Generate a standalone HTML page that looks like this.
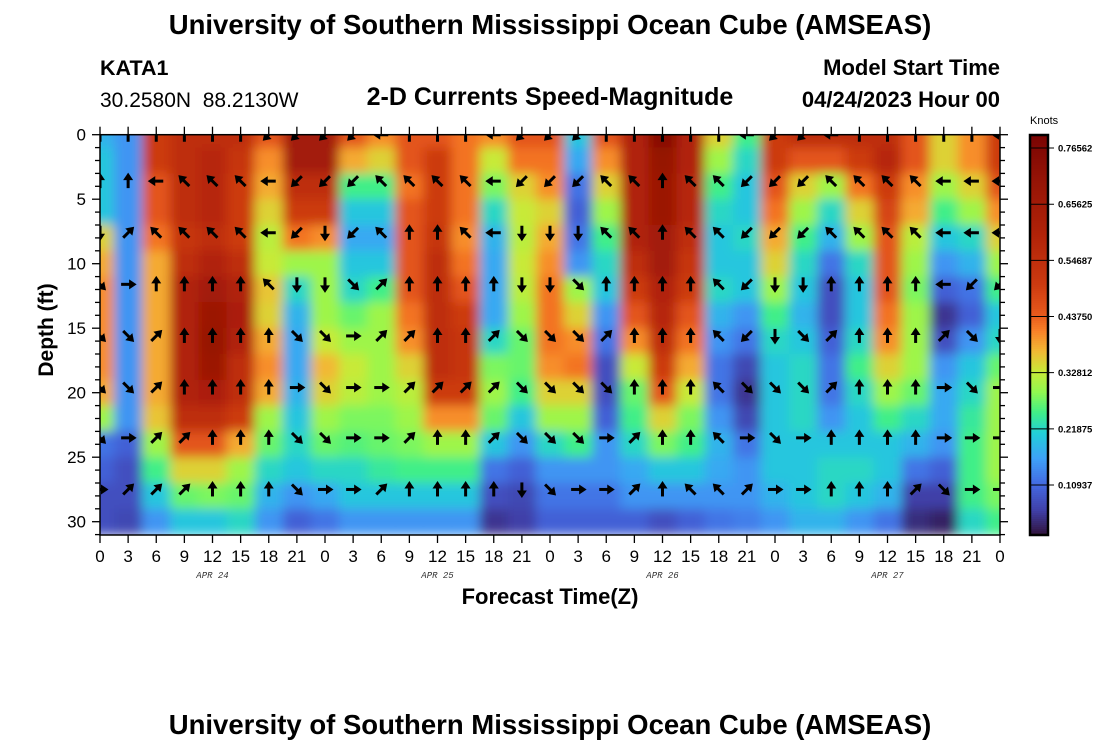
<!DOCTYPE html>
<html><head><meta charset="utf-8">
<style>
body{margin:0;background:#fff;width:1100px;height:750px;overflow:hidden;font-family:"Liberation Sans",Arial,sans-serif}
svg{display:block}
</style></head>
<body>
<svg id="chart" width="1100" height="750" viewBox="0 0 1100 750" xmlns="http://www.w3.org/2000/svg">
<defs>
<clipPath id="plotclip"><rect x="100" y="134.7" width="900" height="400.3"/></clipPath>
<filter id="smooth" filterUnits="userSpaceOnUse" x="60" y="100" width="980" height="480">
<feGaussianBlur stdDeviation="5.5" edgeMode="duplicate"/>
</filter>
</defs>
<text x="550" y="34" text-anchor="middle" font-size="27.5" font-weight="bold">University of Southern Mississippi Ocean Cube (AMSEAS)</text>
<text x="100" y="75" font-size="21.5" font-weight="bold">KATA1</text>
<text x="100" y="107" font-size="21" xml:space="preserve">30.2580N  88.2130W</text>
<text x="550" y="105" text-anchor="middle" font-size="25" font-weight="bold">2-D Currents Speed-Magnitude</text>
<text x="1000" y="75" text-anchor="end" font-size="22" font-weight="bold">Model Start Time</text>
<text x="1000" y="107" text-anchor="end" font-size="22" font-weight="bold">04/24/2023 Hour 00</text>
<g id="plot" clip-path="url(#plotclip)">
<g id="heat" filter="url(#smooth)"></g>
<g id="arrows"></g>
</g>
<rect x="100" y="134.7" width="900" height="400.3" fill="none" stroke="#000" stroke-width="1.5"/>
<g id="axes"></g>
<text transform="translate(53,330) rotate(-90)" text-anchor="middle" font-size="21" font-weight="bold">Depth (ft)</text>
<text x="550" y="604" text-anchor="middle" font-size="22" font-weight="bold">Forecast Time(Z)</text>
<text x="1030" y="124" font-size="11">Knots</text>
<g id="cbar"></g>
<text x="550" y="734" text-anchor="middle" font-size="27.5" font-weight="bold">University of Southern Mississippi Ocean Cube (AMSEAS)</text>
</svg>
<script>
const hours = [0,3,6,9,12,15,18,21,24,27,30,33,36,39,42,45,48,51,54,57,60,63,66,69,72,75,78,81,84,87,90,93,96];
const depths = [0,2,4,6,8,10,12,14,16,18,20,22,24,26,28,30];
// speed (knots) per hour column, values listed by depth
const speed = [
[0.18,0.2,0.2,0.2,0.35,0.38,0.4,0.4,0.4,0.4,0.38,0.3,0.12,0.1,0.08,0.08],
[0.15,0.15,0.15,0.15,0.15,0.15,0.15,0.15,0.15,0.15,0.15,0.15,0.1,0.08,0.08,0.07],
[0.5,0.5,0.45,0.45,0.42,0.38,0.38,0.38,0.38,0.38,0.38,0.36,0.3,0.25,0.2,0.15],
[0.55,0.55,0.55,0.55,0.52,0.55,0.6,0.6,0.6,0.6,0.6,0.55,0.45,0.35,0.27,0.2],
[0.55,0.58,0.58,0.58,0.55,0.6,0.65,0.68,0.7,0.68,0.62,0.55,0.45,0.35,0.28,0.2],
[0.55,0.52,0.5,0.5,0.5,0.55,0.6,0.62,0.6,0.55,0.55,0.5,0.38,0.3,0.27,0.22],
[0.45,0.4,0.38,0.35,0.32,0.33,0.36,0.35,0.38,0.4,0.38,0.3,0.27,0.22,0.18,0.15],
[0.65,0.65,0.55,0.5,0.42,0.3,0.22,0.18,0.17,0.17,0.18,0.2,0.22,0.2,0.15,0.1],
[0.65,0.65,0.55,0.5,0.4,0.3,0.3,0.3,0.33,0.37,0.35,0.3,0.27,0.22,0.17,0.12],
[0.45,0.38,0.25,0.2,0.17,0.2,0.22,0.27,0.3,0.33,0.32,0.28,0.26,0.22,0.2,0.15],
[0.4,0.35,0.25,0.2,0.17,0.2,0.25,0.3,0.3,0.3,0.3,0.28,0.27,0.24,0.2,0.15],
[0.45,0.45,0.42,0.45,0.45,0.45,0.45,0.42,0.4,0.35,0.32,0.3,0.28,0.25,0.2,0.15],
[0.45,0.5,0.5,0.5,0.52,0.55,0.55,0.55,0.55,0.55,0.5,0.4,0.3,0.25,0.2,0.15],
[0.42,0.42,0.42,0.42,0.4,0.42,0.45,0.5,0.52,0.52,0.5,0.4,0.3,0.25,0.2,0.15],
[0.4,0.33,0.28,0.22,0.18,0.17,0.17,0.17,0.22,0.28,0.3,0.27,0.2,0.12,0.08,0.05],
[0.45,0.42,0.35,0.33,0.32,0.33,0.32,0.3,0.27,0.27,0.25,0.2,0.15,0.1,0.07,0.06],
[0.45,0.42,0.4,0.35,0.38,0.4,0.42,0.42,0.42,0.4,0.35,0.3,0.22,0.15,0.12,0.1],
[0.2,0.17,0.12,0.1,0.12,0.15,0.3,0.35,0.4,0.42,0.35,0.3,0.25,0.15,0.12,0.1],
[0.45,0.4,0.35,0.3,0.25,0.22,0.2,0.15,0.12,0.08,0.08,0.1,0.15,0.15,0.12,0.1],
[0.6,0.6,0.6,0.6,0.6,0.55,0.5,0.45,0.4,0.33,0.27,0.25,0.22,0.17,0.15,0.1],
[0.75,0.7,0.68,0.68,0.65,0.65,0.6,0.58,0.55,0.5,0.45,0.35,0.28,0.2,0.15,0.08],
[0.6,0.6,0.58,0.58,0.55,0.52,0.5,0.45,0.42,0.38,0.33,0.28,0.25,0.2,0.15,0.1],
[0.35,0.3,0.25,0.22,0.2,0.2,0.22,0.18,0.15,0.12,0.12,0.15,0.18,0.17,0.15,0.12],
[0.25,0.22,0.2,0.2,0.22,0.2,0.2,0.15,0.12,0.07,0.05,0.07,0.12,0.15,0.15,0.13],
[0.5,0.5,0.45,0.42,0.38,0.35,0.3,0.25,0.22,0.2,0.2,0.2,0.2,0.2,0.18,0.15],
[0.55,0.45,0.35,0.3,0.25,0.22,0.2,0.18,0.2,0.22,0.22,0.22,0.2,0.2,0.2,0.18],
[0.55,0.45,0.3,0.22,0.18,0.12,0.08,0.08,0.1,0.12,0.12,0.15,0.2,0.22,0.22,0.18],
[0.55,0.5,0.42,0.35,0.3,0.22,0.2,0.2,0.22,0.25,0.22,0.2,0.2,0.22,0.2,0.15],
[0.55,0.58,0.5,0.48,0.45,0.45,0.45,0.42,0.4,0.35,0.3,0.25,0.2,0.2,0.18,0.12],
[0.45,0.45,0.4,0.38,0.32,0.3,0.28,0.3,0.3,0.3,0.27,0.22,0.18,0.12,0.06,0.04],
[0.35,0.35,0.3,0.25,0.2,0.15,0.1,0.05,0.08,0.15,0.17,0.17,0.15,0.1,0.06,0.03],
[0.4,0.4,0.35,0.3,0.22,0.18,0.12,0.1,0.15,0.2,0.22,0.24,0.25,0.25,0.25,0.22],
[0.5,0.5,0.45,0.4,0.35,0.3,0.25,0.2,0.22,0.27,0.3,0.3,0.3,0.3,0.28,0.25]
];
const arrowDepths = [0,3.6,7.6,11.6,15.6,19.6,23.5,27.5];
// arrow directions per arrow row, one per hour column
const dirRows = [
"u u u u u u dl dl dl dl l u u u l dl dl dl u u u u u l dl dl l u u u u u l",
"u u l ul ul ul l dl dl dl ul ul ul ul l dl dl dl ul ul u ul ul dl dl dl ul ul ul ul l l l",
"d ur ul ul ul ul l dl d dl ul u u ul l d d d ul ul u ul ul dl dl dl ul ul ul ul l l l",
"dr r u u u u ul d d dr ur u u u u d d dr u u u u ul dl d d u u u u l dl dl",
"dr dr ur u u u u dr dr r ur ur u u ur dr dr dr ur u u u ul dl d dr ur u u u ur dr d",
"dr dr ur u u u u r dr r r ur ur ur ur dr dr dr dr u u u ul dr dr dr ur u u u r dr r",
"dr r ur ur u u u dr dr r r ur u u ur dr dr dr r ur u u ul r dr r u u u u r r r",
"r ur ur ur u u u dr r r ur u u u u d dr r r ur u ul ul ur r r u u u ur dr r r"
];
const cbTicks = [0.109375,0.21875,0.328125,0.4375,0.546875,0.65625,0.765625];
const cbLabels = ["0.10937","0.21875","0.32812","0.43750","0.54687","0.65625","0.76562"];
const yTicks = [0,5,10,15,20,25,30];
const xDayLabels = ["APR 24","APR 25","APR 26","APR 27"];

const NS="http://www.w3.org/2000/svg";
const X0=100,X1=1000,Y0=134.7,PXFT=12.9,HMAX=96,VMIN=0.012,VMAX=0.791,CBY0=135,CBY1=535;
const xs=h=>X0+(h/HMAX)*(X1-X0);
const ys=d=>Y0+d*PXFT;
const cbs=v=>CBY1-(v-VMIN)/(VMAX-VMIN)*(CBY1-CBY0);
const stops=[[0.012,[48,18,59]],[0.06,[64,64,168]],[0.109,[68,104,224]],[0.16,[62,160,248]],[0.21,[34,207,216]],[0.25,[64,239,136]],[0.29,[144,248,80]],[0.33,[200,234,56]],[0.37,[242,184,52]],[0.41,[248,128,40]],[0.44,[232,90,28]],[0.5,[204,58,16]],[0.6,[176,34,8]],[0.7,[150,20,6]],[0.791,[122,4,3]]];
function color(v){
  if(v<=stops[0][0])return `rgb(${stops[0][1]})`;
  for(let i=1;i<stops.length;i++){
    if(v<=stops[i][0]){const a=stops[i-1],b=stops[i];const t=(v-a[0])/(b[0]-a[0]);
      const c=a[1].map((q,k)=>Math.round(q+(b[1][k]-q)*t));return `rgb(${c})`;}
  }
  return `rgb(${stops[stops.length-1][1]})`;
}
function mk(tag,attrs,parent){const e=document.createElementNS(NS,tag);for(const k in attrs)e.setAttribute(k,attrs[k]);parent.appendChild(e);return e;}

const heat=document.getElementById('heat');
const dh=3,dd=2;
hours.forEach((h,i)=>{
  depths.forEach((d,j)=>{
    const r=mk('rect',{x:xs(h-dh/2),y:ys(d-dd/2),width:xs(dh)-X0+0.6,height:dd*PXFT+0.6,fill:color(speed[i][j])},heat);
    
    
  });
});

const ang={u:-90,d:90,l:180,r:0,ul:-135,ur:-45,dl:135,dr:45};
const arrows=document.getElementById('arrows');
dirRows.forEach((row,ri)=>{
  row.trim().split(/\s+/).forEach((dname,ci)=>{
    const cx=xs(hours[ci]),cy=ys(arrowDepths[ri]);
    const g=mk('g',{transform:`translate(${cx},${cy}) rotate(${ang[dname]})`},arrows);
    
    
    mk('line',{x1:-7,y1:0,x2:3,y2:0,stroke:'#000','stroke-width':3},g);
    mk('polygon',{points:'8.5,0 1,-5 1,5',fill:'#000'},g);
  });
});

const axes=document.getElementById('axes');
for(let d=0;d<=31;d++){
  const y=ys(d),maj=d%5===0;
  mk('line',{x1:X0-(maj?8:5),y1:y,x2:X0,y2:y,stroke:'#000','stroke-width':1.3},axes);
  mk('line',{x1:X1,y1:y,x2:X1+(maj?8:5),y2:y,stroke:'#000','stroke-width':1.3},axes);
}
yTicks.forEach(t=>{
  const e=mk('text',{x:86,y:ys(t)+6,'text-anchor':'end','font-size':17},axes);e.textContent=t;
  
  
});
hours.forEach(h=>{
  const x=xs(h);
  mk('line',{x1:x,y1:Y0-8,x2:x,y2:Y0,stroke:'#000','stroke-width':1.3},axes);
  mk('line',{x1:x,y1:535,x2:x,y2:543,stroke:'#000','stroke-width':1.3},axes);
  const e=mk('text',{x:x,y:562,'text-anchor':'middle','font-size':17},axes);e.textContent=h%24;
  
  
});
xDayLabels.forEach((s,i)=>{
  const e=mk('text',{x:xs(i*24+12),y:578,'text-anchor':'middle','font-size':9,'font-style':'italic','font-family':'Liberation Mono, monospace',fill:'#333'},axes);
  e.textContent=s;
  
  
});

const cb=document.getElementById('cbar');
for(let y=CBY0;y<CBY1;y+=2){
  const v=VMAX-(y-CBY0+1)/(CBY1-CBY0)*(VMAX-VMIN);
  mk('rect',{x:1030,y:y,width:18,height:2.3,fill:color(v)},cb);
}
mk('rect',{x:1030,y:CBY0,width:18,height:CBY1-CBY0,fill:'none',stroke:'#000','stroke-width':2.5},cb);
cbTicks.forEach((v,i)=>{
  const y=cbs(v);
  mk('line',{x1:1030,y1:y,x2:1054,y2:y,stroke:'#000','stroke-width':1},cb);
  const e=mk('text',{x:1058,y:y+3.5,'font-size':9.5,'font-weight':'bold'},cb);e.textContent=cbLabels[i];
  
  
});
</script>
</body></html>
